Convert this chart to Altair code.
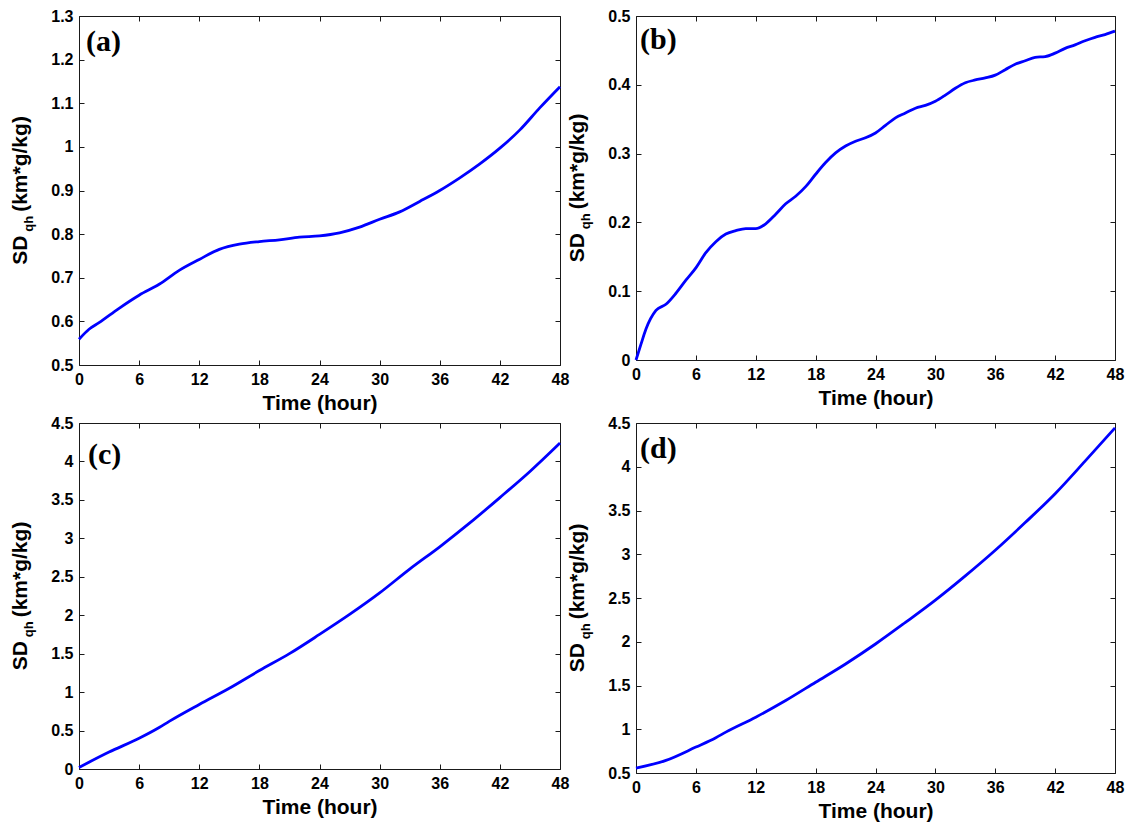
import altair as alt
import pandas as pd

# ---------------- data ----------------
X_TICKS = [0, 6, 12, 18, 24, 30, 36, 42, 48]

HOURS_A = [0, 1, 2, 4, 6, 8, 10, 12, 14, 16, 18, 20, 22, 24, 26, 28, 30, 32, 34,
           36, 38, 40, 42, 44, 46, 48]
SD_A = [0.559, 0.582, 0.597, 0.630, 0.660, 0.685, 0.717, 0.742, 0.765, 0.777,
        0.783, 0.787, 0.793, 0.796, 0.803, 0.816, 0.834, 0.851, 0.875, 0.900,
        0.929, 0.961, 0.997, 1.039, 1.090, 1.138]
Y_TICKS_A = [0.5, 0.6, 0.7, 0.8, 0.9, 1.0, 1.1, 1.2, 1.3]

HOURS_B = [0, 0.5, 1, 2, 3, 4, 5, 6, 7, 8, 9, 10, 11, 12, 13, 14, 15, 16, 17, 18,
           19, 20, 21, 22, 23, 24, 25, 26, 27, 28, 29, 30, 31, 32, 33, 34, 35, 36,
           37, 38, 39, 40, 41, 42, 43, 44, 45, 46, 47, 48]
SD_B = [0.000, 0.023, 0.045, 0.072, 0.081, 0.097, 0.116, 0.134, 0.156, 0.172,
        0.183, 0.188, 0.191, 0.191, 0.198, 0.212, 0.227, 0.238, 0.252, 0.270,
        0.287, 0.301, 0.311, 0.318, 0.323, 0.330, 0.341, 0.352, 0.359, 0.366,
        0.370, 0.376, 0.385, 0.395, 0.403, 0.407, 0.410, 0.414, 0.422, 0.430,
        0.435, 0.440, 0.441, 0.446, 0.453, 0.458, 0.464, 0.469, 0.473, 0.478]
Y_TICKS_B = [0, 0.1, 0.2, 0.3, 0.4, 0.5]

HOURS_C = [0, 3, 6, 8, 9, 12, 15, 18, 21, 24, 27, 30, 33, 36, 39, 42, 45, 48]
SD_C = [0.02, 0.22, 0.40, 0.54, 0.62, 0.84, 1.05, 1.28, 1.50, 1.75, 2.01, 2.29,
        2.60, 2.89, 3.20, 3.53, 3.87, 4.24]
Y_TICKS_C = [0, 0.5, 1, 1.5, 2, 2.5, 3, 3.5, 4, 4.5]

HOURS_D = [0, 3, 6, 8, 9, 12, 15, 18, 21, 24, 27, 30, 33, 36, 39, 42, 45, 48]
SD_D = [0.557, 0.644, 0.796, 0.903, 0.967, 1.138, 1.328, 1.537, 1.746, 1.974,
        2.221, 2.476, 2.753, 3.046, 3.362, 3.692, 4.064, 4.444]
Y_TICKS_D = [0.5, 1, 1.5, 2, 2.5, 3, 3.5, 4, 4.5]

TAGS = ["(a)", "(b)", "(c)", "(d)"]
X_TITLE = "Time (hour)"
Y_TITLE_MAIN = "SD"
Y_TITLE_SUB = "qh"
Y_TITLE_UNIT = "(km*g/kg)"

FONT = "Liberation Sans"
SERIF = "Liberation Serif"
INK = "#1a1a1a"


def panel(hours, values, y_domain, y_ticks, tag, width, height, tag_x, tag_y):
    df = pd.DataFrame({"hour": hours, "sd": values})
    xs = alt.Scale(domain=[0, 48], nice=False, zero=False)
    ys = alt.Scale(domain=y_domain, nice=False, zero=False)
    common = dict(tickSize=5, offset=-5, domain=False, grid=False,
                  tickColor=INK, tickWidth=1, labelOverlap=False,
                  labelFlush=False)
    lab = dict(labelFont=FONT, labelFontSize=16, labelFontWeight="bold",
               labelColor="black")
    x_bottom = alt.Axis(orient="bottom", values=X_TICKS, labelPadding=6,
                        title=X_TITLE, titleFont=FONT, titleFontSize=21,
                        titleFontWeight="bold", titleColor="black",
                        titlePadding=5, **common, **lab)
    y_left = alt.Axis(orient="left", values=y_ticks, format="~g",
                      labelPadding=6, title=None, **common, **lab)
    x_top = alt.Axis(orient="top", values=X_TICKS, labels=False, title=None,
                     **common)
    y_right = alt.Axis(orient="right", values=y_ticks, labels=False,
                       title=None, **common)

    base = alt.Chart(df)
    line = base.mark_line(color="#0000FF", strokeWidth=2.8,
                          interpolate="monotone").encode(
        x=alt.X("hour:Q", scale=xs, axis=x_bottom),
        y=alt.Y("sd:Q", scale=ys, axis=y_left),
    )
    mirror = base.mark_line(strokeOpacity=0).encode(
        x=alt.X("hour:Q", scale=xs, axis=x_top),
        y=alt.Y("sd:Q", scale=ys, axis=y_right),
    )

    one = pd.DataFrame({"k": [0]})
    big, small, gap = 21, 13, 4
    w_sd = 1.389 * big
    w_qh = 1.222 * small
    w_unit = 4.556 * big
    total = w_sd + gap + w_qh + gap + w_unit
    y_start = height / 2 + total / 2
    bx = -52

    def rot(text, size, x, y):
        return alt.Chart(one).mark_text(
            text=text, angle=270, align="left", baseline="alphabetic",
            font=FONT, fontSize=size, fontWeight="bold", color="black",
        ).encode(x=alt.value(x), y=alt.value(y))

    t_sd = rot(Y_TITLE_MAIN, big, bx, y_start)
    t_qh = rot(Y_TITLE_SUB, small, bx + 6, y_start - w_sd - gap)
    t_unit = rot(Y_TITLE_UNIT, big, bx, y_start - w_sd - gap - w_qh - gap)

    t_tag = alt.Chart(one).mark_text(
        text=tag, align="left", baseline="alphabetic", font=SERIF,
        fontSize=30, fontWeight="bold", color="black",
    ).encode(x=alt.value(tag_x), y=alt.value(tag_y))

    return alt.layer(line, mirror, t_sd, t_qh, t_unit, t_tag).resolve_axis(
        x="independent", y="independent"
    ).properties(width=width, height=height)


pa = panel(HOURS_A, SD_A, [0.5, 1.3], Y_TICKS_A, TAGS[0], 481, 349, 7, 35)
pb = panel(HOURS_B, SD_B, [0, 0.5], Y_TICKS_B, TAGS[1], 479, 344, 4, 33)
pc = panel(HOURS_C, SD_C, [0, 4.5], Y_TICKS_C, TAGS[2], 481, 346, 9, 41)
pd_ = panel(HOURS_D, SD_D, [0.5, 4.5], Y_TICKS_D, TAGS[3], 479, 350, 4, 35)

chart = alt.concat(
    pa, pb, pc, pd_, columns=2, spacing={"row": 58, "column": 76},
    bounds="flush",
).configure_view(
    stroke=INK, strokeWidth=1
).properties(
    padding={"left": 9, "top": 7, "right": 0, "bottom": 0},
    background="white",
)

chart.save("out.html", embed_options={"renderer": "svg", "actions": False})
